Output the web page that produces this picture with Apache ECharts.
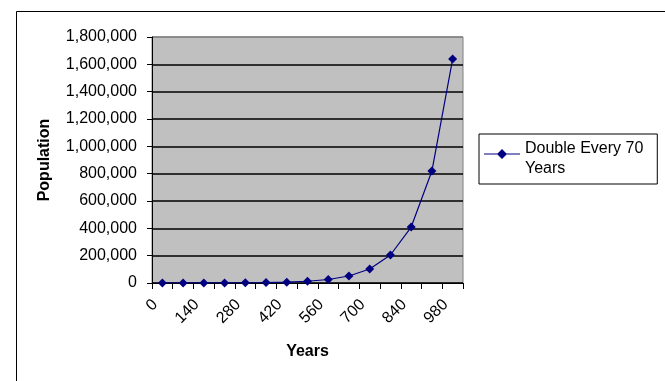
<!DOCTYPE html>
<html>
<head>
<meta charset="utf-8">
<script src="https://cdn.jsdelivr.net/npm/echarts@6/dist/echarts.min.js"></script>
<style>
html,body{margin:0;padding:0;background:#fff;}
#chart{width:665px;height:381px;}
</style>
</head>
<body>
<div id="chart"></div>
<script>
var years = ['0','70','140','210','280','350','420','490','560','630','700','770','840','910','980'];
var population = [100,200,400,800,1600,3200,6400,12800,25600,51200,102400,204800,409600,819200,1638400];
var seriesName = 'Double Every 70\nYears';
var yTicks = [0,200000,400000,600000,800000,1000000,1200000,1400000,1600000,1800000];

var chart = echarts.init(document.getElementById('chart'));
var font = '"Liberation Sans", Arial, sans-serif';
var gridColors = yTicks.map(function(v,i){ return i === yTicks.length-1 ? '#808080' : '#000000'; });
// legend icon: line + diamond in the upper half, bbox extended downward by an invisible sliver
var legendIcon = 'path://M0,4.4 L13.5,4.4 L18,0 L22.5,4.4 L36,4.4 L36,5.6 L22.5,5.6 L18,10 L13.5,5.6 L0,5.6 Z M0,20 L0.01,20 L0,20 Z';
chart.setOption({
  animation: false,
  backgroundColor: '#ffffff',
  textStyle: { fontFamily: font },
  graphic: [{
    type: 'rect', left: 14, top: 9, silent: true, z: -10,
    shape: { width: 649, height: 400 },
    style: { fill: 'none', stroke: '#000', lineWidth: 1 }
  }],
  grid: {
    left: 152, right: 202, top: 37, bottom: 98,
    show: true, backgroundColor: '#c0c0c0', borderColor: '#808080', borderWidth: 1
  },
  legend: {
    left: 479, top: 134,
    orient: 'vertical',
    borderColor: '#000', borderWidth: 1, borderRadius: 0,
    padding: [5, 14, 5, 5],
    icon: legendIcon,
    itemWidth: 36, itemHeight: 20, itemGap: 5,
    textStyle: { fontSize: 16, color: '#000', fontFamily: font, lineHeight: 20 },
    data: [seriesName]
  },
  xAxis: {
    type: 'category',
    data: years,
    boundaryGap: true,
    name: 'Years', nameLocation: 'middle', nameGap: 61,
    nameTextStyle: { fontSize: 16, fontWeight: 'bold', color: '#000', fontFamily: font },
    axisLine: { lineStyle: { color: '#000', width: 1 } },
    axisTick: { show: true, interval: 0, length: 6, lineStyle: { color: '#000' } },
    axisLabel: { interval: 1, rotate: 45, fontSize: 16, color: '#000', margin: 12, padding: [0, 10, 0, 0], fontFamily: font },
    splitLine: { show: false }
  },
  yAxis: {
    type: 'value',
    min: 0, max: 1800000, interval: 200000,
    name: 'Population', nameLocation: 'middle', nameGap: 99,
    nameTextStyle: { fontSize: 16, fontWeight: 'bold', color: '#000', fontFamily: font },
    axisLine: { show: true, lineStyle: { color: '#000', width: 1 } },
    axisTick: { show: true, length: 5, lineStyle: { color: '#000' } },
    axisLabel: {
      fontSize: 16, color: '#000', margin: 15, fontFamily: font,
      formatter: function (v) { return v.toLocaleString('en-US'); }
    },
    splitLine: { show: true, lineStyle: { color: gridColors, width: 1.5 } }
  },
  series: [{
    name: seriesName,
    type: 'line',
    data: population,
    symbol: 'diamond',
    symbolSize: 9,
    showAllSymbol: true,
    lineStyle: { color: '#000080', width: 1.2 },
    itemStyle: { color: '#000080' }
  }]
});
</script>
</body>
</html>
